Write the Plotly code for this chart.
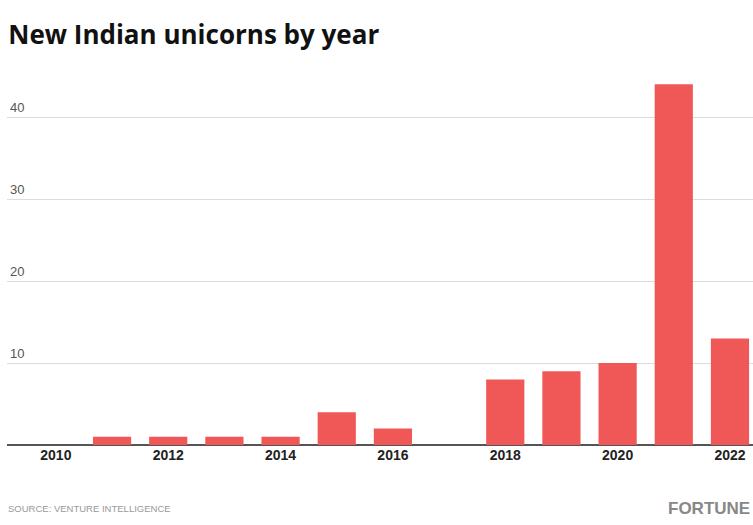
import plotly.graph_objects as go

years = [2010, 2011, 2012, 2013, 2014, 2015, 2016, 2017, 2018, 2019, 2020, 2021, 2022]
unicorns = [0, 1, 1, 1, 1, 4, 2, 0, 8, 9, 10, 44, 13]
x_ticks = [2010, 2012, 2014, 2016, 2018, 2020, 2022]
y_ticks = [10, 20, 30, 40]

fig = go.Figure()
fig.add_trace(go.Bar(x=years, y=unicorns, marker=dict(color="#EF5857", line=dict(width=0)),
                     width=0.68, hoverinfo="x+y"))

fig.update_layout(
    width=753, height=525,
    margin=dict(l=7, r=0, t=50, b=80),
    paper_bgcolor="white", plot_bgcolor="white",
    showlegend=False,
    title=dict(text="<b>New Indian unicorns by year</b>", x=0.011, xanchor="left",
               y=0.933, yanchor="middle",
               font=dict(family="Open Sans, Liberation Sans, sans-serif", size=26, color="#111",
                         weight=800)),
    xaxis=dict(range=[2009.13, 2022.41], tickvals=x_ticks, ticktext=[str(v) for v in x_ticks],
               showgrid=False, zeroline=False, showline=False, ticks="",
               tickfont=dict(family="Liberation Sans, Arial, sans-serif",
                             size=14, color="#222", weight="bold")),
    yaxis=dict(range=[0, 48.17], tickvals=y_ticks, ticktext=[str(v) for v in y_ticks],
               showgrid=True, gridcolor="#d9dde0", gridwidth=1,
               zeroline=True, zerolinecolor="#555", zerolinewidth=2,
               showline=False, ticks="", ticklabelposition="inside top",
               tickfont=dict(family="Liberation Sans, Arial, sans-serif", size=13, color="#555")),
    bargap=0.32,
)

fig.add_annotation(text="SOURCE: VENTURE INTELLIGENCE", xref="paper", yref="paper",
                   x=-0.002, y=-0.16, xanchor="left", yanchor="middle", showarrow=False,
                   font=dict(family="Liberation Sans, Arial, sans-serif",
                             size=9.5, color="#999"))
fig.add_annotation(text="<b>FORTUNE</b>", xref="paper", yref="paper",
                   x=0.998, y=-0.16, xanchor="right", yanchor="middle", showarrow=False,
                   font=dict(family="Liberation Sans, Arial, sans-serif",
                             size=17, color="#888"))

fig.write_html("out.html")
